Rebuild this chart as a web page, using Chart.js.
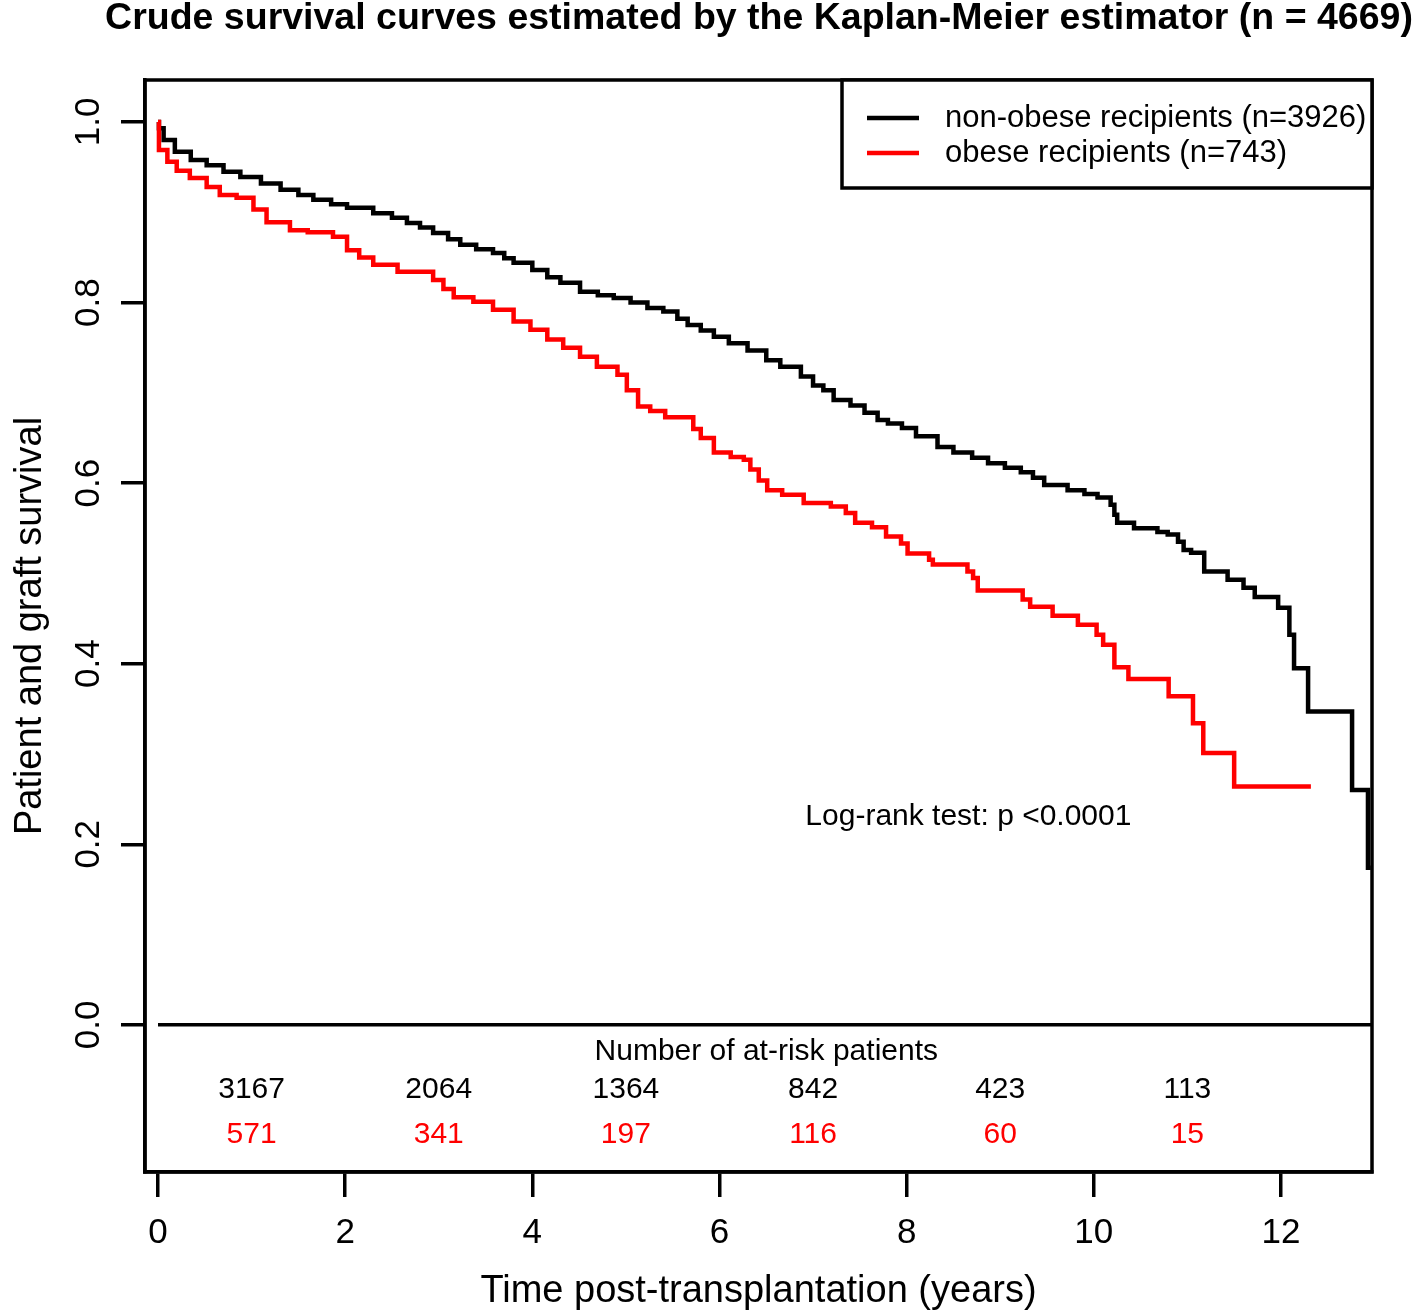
<!DOCTYPE html>
<html>
<head>
<meta charset="utf-8">
<script src="https://cdn.jsdelivr.net/npm/chart.js@4"></script>
<style>
  html, body { margin: 0; padding: 0; background: #fff; }
  #wrap { width: 1418px; height: 1316px; }
</style>
</head>
<body>
<div id="wrap"><canvas id="grafica" width="1418" height="1316"></canvas></div>
<script>
// Kaplan-Meier curves (time in years, survival after each step)
const blackTime = [0, 0.01, 0.06, 0.18, 0.35, 0.52, 0.7, 0.88, 1.1, 1.31, 1.5, 1.66, 1.85, 2.02, 2.3, 2.5, 2.66, 2.8, 2.94, 3.1, 3.23, 3.4, 3.58, 3.7, 3.8, 4.0, 4.16, 4.3, 4.51, 4.7, 4.87, 5.05, 5.23, 5.4, 5.55, 5.66, 5.8, 5.94, 6.1, 6.3, 6.5, 6.65, 6.87, 7.0, 7.11, 7.22, 7.4, 7.55, 7.69, 7.8, 7.95, 8.1, 8.33, 8.5, 8.7, 8.87, 9.05, 9.22, 9.35, 9.47, 9.72, 9.9, 10.04, 10.18, 10.22, 10.25, 10.43, 10.68, 10.79, 10.9, 10.96, 11.04, 11.18, 11.43, 11.6, 11.72, 11.97, 12.09, 12.14, 12.29, 12.76, 12.93, 12.96];
const blackSurv = [1.0, 0.993, 0.98, 0.967, 0.958, 0.952, 0.945, 0.939, 0.932, 0.925, 0.919, 0.914, 0.909, 0.905, 0.899, 0.894, 0.888, 0.883, 0.877, 0.870, 0.864, 0.859, 0.855, 0.849, 0.844, 0.836, 0.828, 0.822, 0.812, 0.808, 0.805, 0.800, 0.794, 0.790, 0.782, 0.775, 0.769, 0.762, 0.755, 0.747, 0.736, 0.729, 0.718, 0.708, 0.703, 0.692, 0.686, 0.678, 0.670, 0.666, 0.661, 0.652, 0.640, 0.634, 0.628, 0.622, 0.617, 0.612, 0.606, 0.598, 0.592, 0.588, 0.584, 0.576, 0.565, 0.556, 0.550, 0.546, 0.543, 0.535, 0.526, 0.523, 0.502, 0.493, 0.484, 0.474, 0.462, 0.432, 0.395, 0.347, 0.260, 0.174, 0.174];

const redTime = [0, 0.01, 0.1, 0.2, 0.34, 0.52, 0.66, 0.84, 1.02, 1.16, 1.41, 1.6, 1.87, 2.02, 2.15, 2.3, 2.56, 2.94, 3.05, 3.16, 3.37, 3.58, 3.8, 3.98, 4.16, 4.33, 4.51, 4.69, 4.91, 5.01, 5.13, 5.26, 5.42, 5.72, 5.8, 5.94, 6.12, 6.26, 6.33, 6.42, 6.51, 6.67, 6.9, 7.19, 7.35, 7.45, 7.63, 7.78, 7.94, 8.01, 8.24, 8.28, 8.65, 8.71, 8.76, 9.24, 9.32, 9.56, 9.83, 10.03, 10.1, 10.22, 10.37, 10.8, 11.06, 11.17, 11.5, 12.32];
const redSurv = [1.0, 0.969, 0.956, 0.946, 0.938, 0.928, 0.919, 0.916, 0.903, 0.889, 0.880, 0.878, 0.873, 0.858, 0.850, 0.842, 0.834, 0.825, 0.815, 0.806, 0.801, 0.792, 0.779, 0.770, 0.759, 0.750, 0.740, 0.729, 0.720, 0.703, 0.685, 0.680, 0.673, 0.660, 0.650, 0.634, 0.629, 0.626, 0.615, 0.603, 0.592, 0.587, 0.578, 0.574, 0.567, 0.556, 0.551, 0.541, 0.533, 0.522, 0.515, 0.510, 0.502, 0.495, 0.481, 0.471, 0.463, 0.453, 0.443, 0.432, 0.421, 0.396, 0.383, 0.364, 0.334, 0.301, 0.264, 0.264];

// at-risk table
const riskTimes = [1, 3, 5, 7, 9, 11];
const riskBlack = [3167, 2064, 1364, 842, 423, 113];
const riskRed = [571, 341, 197, 116, 60, 15];

const xTicks = [0, 2, 4, 6, 8, 10, 12];
const yTicks = [0.0, 0.2, 0.4, 0.6, 0.8, 1.0];
const legendLabels = ['non-obese recipients (n=3926)', 'obese recipients (n=743)'];
const titulo = 'Crude survival curves estimated by the Kaplan-Meier estimator (n = 4669)';

const FONT = '"Liberation Sans", Arial, sans-serif';
const xMin = -0.139, xMax = 12.973;
const yMin = -0.163, yMax = 1.0465;

function pts(t, s) { return t.map((v, i) => ({ x: v, y: s[i] })); }

// titulo, caja, leyenda y textos dentro del grafico
const extras = {
  id: 'extras',
  afterDraw(chart) {
    const ctx = chart.ctx;
    const a = chart.chartArea;
    const xs = chart.scales.x, ys = chart.scales.y;
    ctx.save();

    // title (centred over the plot box, not squeezed to its width)
    ctx.fillStyle = '#000';
    ctx.font = 'bold 37.5px ' + FONT;
    ctx.textAlign = 'center';
    ctx.textBaseline = 'middle';
    ctx.fillText(titulo, 759, 19);

    ctx.strokeStyle = '#000';
    ctx.lineWidth = 3.5;
    ctx.strokeRect(a.left, a.top, a.right - a.left, a.bottom - a.top);

    // legend
    const lw = 530, lh = 108;
    const lx = a.right - lw, ly = a.top;
    ctx.fillStyle = '#fff';
    ctx.fillRect(lx, ly, lw, lh);
    ctx.strokeRect(lx, ly, lw, lh);
    const cols = ['#000', '#ff0000'];
    ctx.font = '31px ' + FONT;
    ctx.textAlign = 'left';
    [38, 73].forEach((dy, i) => {
      ctx.strokeStyle = cols[i];
      ctx.lineWidth = 4.5;
      ctx.beginPath();
      ctx.moveTo(lx + 25, ly + dy);
      ctx.lineTo(lx + 77, ly + dy);
      ctx.stroke();
      ctx.fillStyle = '#000';
      ctx.fillText(legendLabels[i], lx + 103, ly + dy);
    });

    // log-rank
    ctx.font = '30px ' + FONT;
    ctx.textAlign = 'center';
    ctx.fillStyle = '#000';
    ctx.fillText('Log-rank test: p <0.0001', xs.getPixelForValue(8.66), ys.getPixelForValue(0.231));

    // at-risk numbers
    ctx.fillText('Number of at-risk patients', xs.getPixelForValue(6.5), ys.getPixelForValue(-0.030));
    riskTimes.forEach((t, i) => {
      ctx.fillStyle = '#000';
      ctx.fillText(String(riskBlack[i]), xs.getPixelForValue(t), ys.getPixelForValue(-0.072));
      ctx.fillStyle = '#ff0000';
      ctx.fillText(String(riskRed[i]), xs.getPixelForValue(t), ys.getPixelForValue(-0.122));
    });
    ctx.restore();
  }
};

const ctx = document.getElementById('grafica').getContext('2d');
const chart = new Chart(ctx, {
  type: 'line',
  data: {
    datasets: [
      {
        label: 'zero',
        data: [{ x: 0, y: 0 }, { x: xMax, y: 0 }],
        borderColor: '#000',
        borderWidth: 3.5,
        pointRadius: 0,
        order: 2
      },
      {
        label: legendLabels[0],
        data: pts(blackTime, blackSurv),
        borderColor: '#000',
        borderWidth: 4.5,
        stepped: 'before',
        pointRadius: 0,
        order: 1
      },
      {
        label: legendLabels[1],
        data: pts(redTime, redSurv),
        borderColor: '#ff0000',
        borderWidth: 4.5,
        stepped: 'before',
        pointRadius: 0,
        order: 0
      }
    ]
  },
  options: {
    responsive: false,
    animation: false,
    layout: { padding: { left: 0, right: 46, top: 80, bottom: 0 } },
    plugins: {
      legend: { display: false },
      tooltip: { enabled: false },
      title: { display: false }
    },
    scales: {
      x: {
        type: 'linear',
        min: xMin,
        max: xMax,
        afterBuildTicks: s => { s.ticks = xTicks.map(v => ({ value: v })); },
        afterFit: s => { s.height = 144; },
        grid: { display: true, drawOnChartArea: false, drawTicks: true, tickLength: 25, lineWidth: 3.5, color: '#000' },
        border: { display: true, color: '#000', width: 3.5 },
        ticks: { autoSkip: false, maxRotation: 0, color: '#000', padding: 15, font: { family: FONT, size: 35 } },
        title: { display: true, text: 'Time post-transplantation (years)', color: '#000', font: { family: FONT, size: 38, lineHeight: 1.0 }, padding: { top: 0, bottom: 5 } }
      },
      y: {
        type: 'linear',
        min: yMin,
        max: yMax,
        afterBuildTicks: s => { s.ticks = yTicks.map(v => ({ value: v })); },
        afterFit: s => { s.width = 145; },
        grid: { display: true, drawOnChartArea: false, drawTicks: true, tickLength: 24, lineWidth: 3.5, color: '#000' },
        border: { display: true, color: '#000', width: 3.5 },
        ticks: {
          autoSkip: false, minRotation: 90, maxRotation: 90, crossAlign: 'center', padding: 7,
          color: '#000', font: { family: FONT, size: 35 },
          callback: v => v.toFixed(1)
        },
        title: { display: true, text: 'Patient and graft survival', color: '#000', font: { family: FONT, size: 38, lineHeight: 1.0 }, padding: { top: 12, bottom: 0 } }
      }
    }
  },
  plugins: [extras]
});
</script>
</body>
</html>
